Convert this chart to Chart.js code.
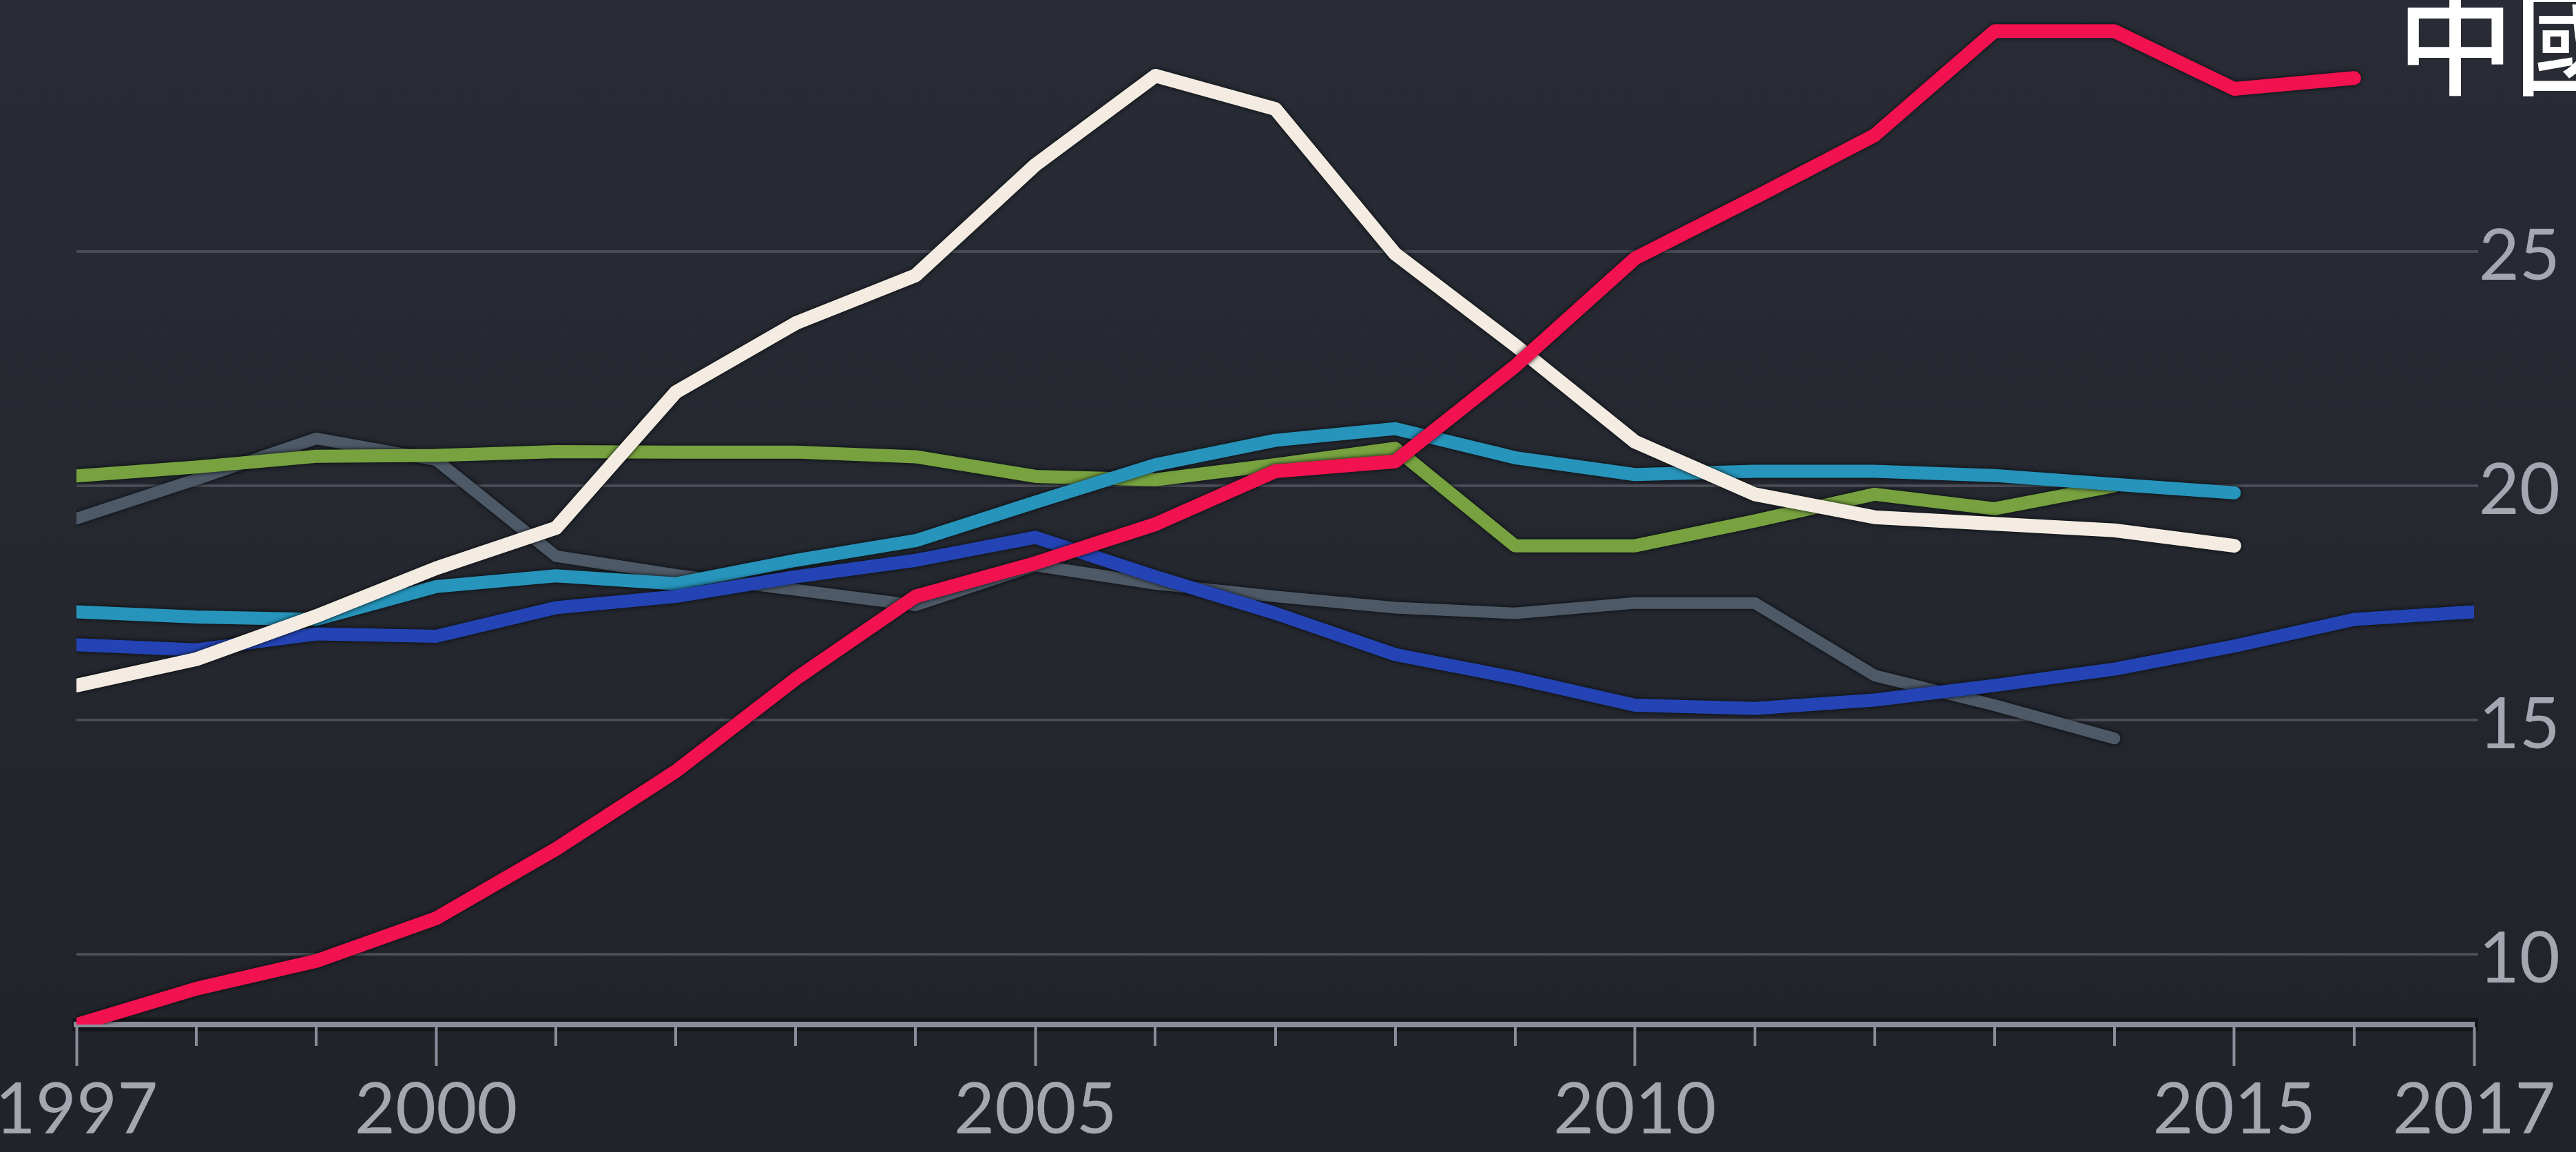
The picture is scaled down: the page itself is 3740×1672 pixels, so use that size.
<!DOCTYPE html>
<html>
<head>
<meta charset="utf-8">
<script src="https://cdn.jsdelivr.net/npm/chart.js@4/dist/chart.umd.min.js"></script>
<style>
  html, body { margin: 0; padding: 0; overflow: hidden; background: #25282f; }
  #wrap { position: relative; width: 3740px; height: 1672px; background: linear-gradient(#292c35, #212329); }
  canvas { display: block; }
</style>
</head>
<body>
<div id="wrap"><canvas id="c" width="3740" height="1672"></canvas></div>
<script>
// ---- data ----
const years = [1997, 1998, 1999, 2000, 2001, 2002, 2003, 2004, 2005, 2006, 2007,
               2008, 2009, 2010, 2011, 2012, 2013, 2014, 2015, 2016, 2017];
const xTickLabels = [1997, 2000, 2005, 2010, 2015, 2017];
const yTickValues = [10, 15, 20, 25];
const chinaLabel = '中國';

const seriesChina = [8.5, 9.27, 9.86, 10.77, 12.25, 13.91, 15.88, 17.64, 18.35, 19.18, 20.31,
                     20.52, 22.55, 24.85, 26.15, 27.48, 29.7, 29.7, 28.47, 28.7, null];
const seriesWhite = [15.74, 16.3, 17.22, 18.24, 19.1, 22.0, 23.47, 24.49, 26.85, 28.75, 28.04,
                     24.95, 23.0, 20.94, 19.82, 19.33, 19.19, 19.05, 18.72, null, null];
const seriesTeal  = [17.31, 17.2, 17.15, 17.85, 18.08, 17.91, 18.41, 18.83, 19.65, 20.45, 20.97,
                     21.22, 20.6, 20.24, 20.31, 20.31, 20.22, 20.03, 19.85, null, null];
const seriesGreen = [20.21, 20.4, 20.63, 20.65, 20.73, 20.72, 20.72, 20.62, 20.2, 20.13, 20.45,
                     20.8, 18.72, 18.72, 19.25, 19.82, 19.51, 20.0, null, null, null];
const seriesGray  = [19.3, 20.14, 21.01, 20.55, 18.5, 18.1, 17.78, 17.45, 18.3, 17.91, 17.64,
                     17.4, 17.28, 17.5, 17.5, 15.95, 15.32, 14.61, null, null, null];
const seriesBlue  = [16.61, 16.5, 16.84, 16.79, 17.4, 17.64, 18.06, 18.41, 18.9, 18.06, 17.28,
                     16.4, 15.9, 15.32, 15.25, 15.43, 15.74, 16.09, 16.58, 17.15, 17.31];

function pts(arr) { return years.map((y, i) => ({ x: y, y: arr[i] })); }

const AXIS_COLOR = '#8a8e9a';
const LABEL_COLOR = '#a4a7b0';
const FONT = { family: 'Lato', size: 102 };

const lineShadow = {
  id: 'lineShadow',
  beforeDatasetDraw(chart) {
    const c = chart.ctx;
    c.save();
    c.shadowColor = 'rgba(4,10,12,1)';
    c.shadowBlur = 6;
  },
  afterDatasetDraw(chart) { chart.ctx.restore(); }
};

const axisExtras = {
  id: 'axisExtras',
  beforeDraw(chart) {
    const { ctx, chartArea } = chart;
    ctx.save();
    ctx.fillStyle = '#15161c';
    ctx.fillRect(chartArea.left - 6, chartArea.bottom - 10, chartArea.right - chartArea.left + 12, 20);
    ctx.restore();
  },
  beforeDatasetsDraw(chart) {
    const { ctx, chartArea } = chart;
    const xs = chart.scales.x;
    ctx.save();
    ctx.strokeStyle = AXIS_COLOR;
    ctx.lineWidth = 4;
    years.forEach(yr => {
      if (xTickLabels.includes(yr)) return;
      const px = Math.round(xs.getPixelForValue(yr));
      ctx.beginPath();
      ctx.moveTo(px, chartArea.bottom + 4);
      ctx.lineTo(px, chartArea.bottom + 31);
      ctx.stroke();
    });
    ctx.restore();
  },
  afterDraw(chart) {
    const { ctx } = chart;
    ctx.save();
    ctx.fillStyle = '#ffffff';
    ctx.font = '500 170px "Noto Sans CJK TC"';
    ctx.textBaseline = 'alphabetic';
    ctx.textAlign = 'left';
    ctx.fillText(chinaLabel, 3480, 125);
    ctx.restore();
  }
};

const common = { pointRadius: 0, tension: 0, borderCapStyle: 'round', borderJoinStyle: 'round', fill: false };

new Chart(document.getElementById('c'), {
  type: 'line',
  data: {
    datasets: [
      { ...common, label: chinaLabel, data: pts(seriesChina), borderColor: '#f2124f', borderWidth: 20 },
      { ...common, label: 'white', data: pts(seriesWhite), borderColor: '#f4ece2', borderWidth: 20 },
      { ...common, label: 'blue', data: pts(seriesBlue), borderColor: '#2444b5', borderWidth: 19 },
      { ...common, label: 'teal', data: pts(seriesTeal), borderColor: '#2794bb', borderWidth: 19 },
      { ...common, label: 'green', data: pts(seriesGreen), borderColor: '#77a23f', borderWidth: 19 },
      { ...common, label: 'gray', data: pts(seriesGray), borderColor: '#4e5967', borderWidth: 17 }
    ]
  },
  options: {
    responsive: false,
    animation: false,
    devicePixelRatio: 1,
    layout: { padding: { left: 111, right: 23, top: 0, bottom: 0 } },
    plugins: { legend: { display: false }, tooltip: { enabled: false } },
    scales: {
      x: {
        type: 'linear', min: 1997, max: 2017,
        afterBuildTicks: s => { s.ticks = years.map(v => ({ value: v })); },
        ticks: {
          autoSkip: false, maxRotation: 0, minRotation: 0,
          color: LABEL_COLOR, font: FONT, padding: 4,
          callback: v => xTickLabels.includes(v) ? String(v) : ''
        },
        grid: {
          drawOnChartArea: false, drawTicks: true, tickLength: 60, tickWidth: 4,
          tickColor: c => (c.tick && xTickLabels.includes(c.tick.value)) ? AXIS_COLOR : 'rgba(0,0,0,0)'
        },
        border: { display: true, color: AXIS_COLOR, width: 8 },
        afterFit: s => { s.height = 185; s.paddingLeft = 0; s.paddingRight = 0; }
      },
      y: {
        position: 'right', min: 8.505, max: 30.366,
        afterBuildTicks: s => { s.ticks = yTickValues.map(v => ({ value: v })); },
        ticks: {
          color: LABEL_COLOR, font: { family: 'Lato', size: 102, lineHeight: '16px' },
          padding: 3, crossAlign: 'far',
          callback: v => ['', String(v)]
        },
        grid: { color: '#4a4d57', lineWidth: 4, drawTicks: true, tickLength: 6, tickColor: '#4a4d57' },
        border: { display: false },
        afterFit: s => { s.width = 125; s.paddingTop = 0; s.paddingBottom = 0; }
      }
    }
  },
  plugins: [lineShadow, axisExtras]
});
</script>
</body>
</html>
